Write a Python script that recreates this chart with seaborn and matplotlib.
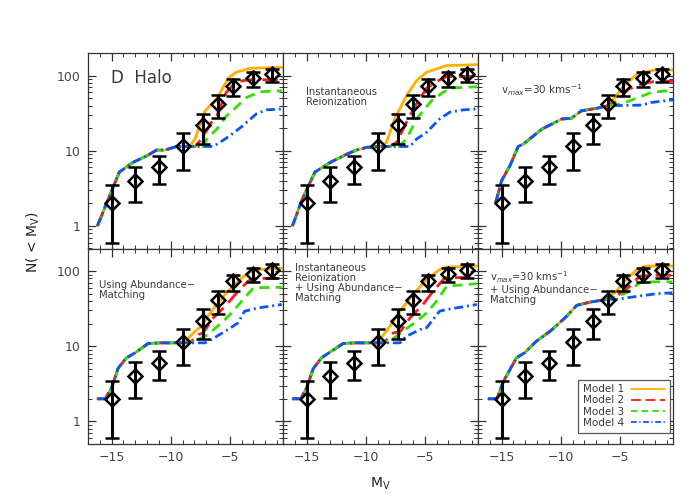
import matplotlib
matplotlib.use("Agg")
import matplotlib.pyplot as plt
import matplotlib.ticker as mticker
from matplotlib.lines import Line2D
import numpy as np
import pandas as pd
import seaborn as sns

# ---------------- data ----------------
obs_x = [-15.0, -13.0, -11.0, -9.0, -7.25, -6.0, -4.75, -3.0, -1.45]
obs_y = [2.0, 4.0, 6.0, 11.4, 22.0, 41.5, 73.6, 92.0, 105.0]
obs_lo = [0.6, 2.05, 3.6, 5.6, 12.3, 27.0, 54.0, 71.0, 81.0]
obs_hi = [3.5, 6.1, 8.6, 17.2, 31.0, 55.0, 90.0, 111.0, 123.0]

panel_titles = [
    "D  Halo",
    "Instantaneous\nReionization",
    "v$_{max}$=30 kms$^{-1}$",
    "Using Abundance\u2212\nMatching",
    "Instantaneous\nReionization\n+ Using Abundance\u2212\nMatching",
    "v$_{max}$=30 kms$^{-1}$\n+ Using Abundance\u2212\nMatching",
]
model_labels = ["Model 1", "Model 2", "Model 3", "Model 4"]

# Panel 1: D Halo
p1_common_x = [-16.2, -15.4, -14.35, -13.2, -12.0, -11.2, -10.5, -9.5, -8.4]
p1_common_y = [1.0, 2.05, 5.2, 7.0, 8.6, 10.2, 10.2, 11.4, 11.4]
p1_m1_x = [-7.95, -7.1, -6.1, -5.15, -4.45, -3.3, -0.6]
p1_m1_y = [14.3, 34, 49, 92, 111, 125, 129]
p1_m2_x = [-7.95, -7.4, -6.55, -6.1, -5.3, -4.45, -3.3, -0.6]
p1_m2_y = [11.4, 14.3, 24, 29, 60, 83, 88, 88]
p1_m3_x = [-7.3, -6.95, -6.1, -5.3, -4.7, -3.6, -2.45, -0.6]
p1_m3_y = [11.4, 14.3, 19.4, 29, 35, 51, 61, 63]
p1_m4_x = [-6.4, -5.85, -5.0, -3.9, -2.75, -1.9, -0.6]
p1_m4_y = [11.4, 12.9, 15.8, 21.5, 31, 35, 36]

# Panel 2: Instantaneous Reionization
p2_common_x = [-16.2, -15.4, -14.3, -13.0, -11.6, -10.8, -9.9, -8.7]
p2_common_y = [1.0, 2.2, 5.2, 7.0, 9.0, 10.2, 11.1, 11.4]
p2_m1_x = [-8.25, -7.55, -6.55, -5.7, -4.85, -3.15, -0.6]
p2_m1_y = [12.9, 26.5, 54, 86, 111, 136, 140]
p2_m2_x = [-7.95, -7.4, -6.55, -5.7, -4.85, -3.85, -3.15, -0.6]
p2_m2_y = [11.4, 12.9, 24, 42, 68, 86, 97, 98]
p2_m3_x = [-7.2, -6.55, -5.7, -4.45, -3.45, -2.75, -0.6]
p2_m3_y = [11.4, 14.3, 26.5, 46, 60, 68.5, 71]
p2_m4_x = [-6.25, -5.7, -4.85, -3.75, -2.9, -1.75, -0.6]
p2_m4_y = [11.4, 14.3, 17.6, 26.5, 32.5, 35, 36]

# Panel 3: vmax = 30 km/s
p3_common_x = [-15.5, -15.0, -14.3, -13.6, -13.15, -11.6, -9.9, -9.1, -8.25, -6.85, -6.0]
p3_common_y = [2.05, 4.0, 6.3, 11.4, 12.3, 19.4, 26.5, 27, 34, 37, 40]
p3_m1_x = [-5.4, -4.55, -3.45, -2.05, -0.5]
p3_m1_y = [51.5, 77, 107, 119, 119]
p3_m2_x = [-5.15, -4.3, -3.15, -2.05, -0.5]
p3_m2_y = [46, 66, 77, 84, 84]
p3_m3_x = [-4.85, -3.75, -2.3, -0.5]
p3_m3_y = [42, 49, 60, 64]
p3_m4_x = [-4.85, -3.15, -2.3, -0.5]
p3_m4_y = [40, 40.5, 44, 47.5]

# Panel 4: Using Abundance-Matching
p4_common_x = [-16.2, -15.55, -15.0, -14.45, -13.75, -13.0, -11.9, -10.8, -9.1]
p4_common_y = [2.0, 2.0, 2.8, 5.1, 7.0, 8.2, 10.9, 11.1, 11.1]
p4_m1_x = [-8.5, -7.95, -7.4, -6.55, -5.4, -4.3, -3.45, -2.6, -0.6]
p4_m1_y = [12.9, 15.8, 18.5, 29.3, 49, 73.6, 95, 105, 109]
p4_m2_x = [-8.25, -7.65, -7.25, -6.4, -5.4, -4.3, -3.45, -2.9, -0.6]
p4_m2_y = [11.7, 14.3, 15.1, 23.9, 34, 54, 73.6, 80, 80]
p4_m3_x = [-7.95, -6.85, -5.7, -4.85, -3.75, -3.0, -0.6]
p4_m3_y = [11.7, 14.3, 20.5, 27.8, 44, 60, 61]
p4_m4_x = [-7.1, -6.55, -5.15, -4.3, -3.75, -2.6, -0.6]
p4_m4_y = [11.1, 12.3, 16.7, 20.5, 29.3, 32.4, 36]

# Panel 5: Instantaneous Reionization + Abundance-Matching
p5_common_x = [-16.2, -15.5, -15.0, -14.45, -13.75, -12.9, -11.9, -10.8, -9.1]
p5_common_y = [2.0, 2.0, 2.8, 5.0, 7.0, 8.6, 10.9, 11.1, 11.1]
p5_m1_x = [-8.8, -7.95, -7.1, -6.0, -4.85, -3.75, -3.15, -0.6]
p5_m1_y = [12.3, 18.5, 29.3, 49, 77, 105, 113, 117]
p5_m2_x = [-8.5, -7.65, -7.1, -6.25, -5.15, -4.3, -3.3, -0.6]
p5_m2_y = [11.1, 15.1, 15.5, 23.9, 36, 54, 81.5, 83]
p5_m3_x = [-7.95, -6.85, -5.7, -4.85, -4.0, -3.15, -0.6]
p5_m3_y = [11.7, 15.8, 21.5, 27.8, 39.8, 63, 68]
p5_m4_x = [-7.1, -6.55, -5.4, -4.85, -3.75, -3.15, -0.6]
p5_m4_y = [11.1, 13.6, 16.7, 17.6, 29.3, 30.8, 36]

# Panel 6: vmax = 30 km/s + Abundance-Matching
p6_common_x = [-16.15, -15.4, -14.85, -13.75, -13.05, -12.05, -10.9, -9.5, -8.65, -7.55, -6.1]
p6_common_y = [2.0, 2.0, 3.4, 7.0, 8.2, 11.7, 15.8, 25, 35, 38.6, 42]
p6_m1_x = [-5.3, -4.45, -3.6, -2.75, -0.55]
p6_m1_y = [54, 77.5, 103, 117, 117]
p6_m2_x = [-5.3, -4.15, -3.3, -2.2, -0.55]
p6_m2_y = [46, 63, 86, 88, 88]
p6_m3_x = [-5.55, -4.45, -3.3, -2.2, -0.55]
p6_m3_y = [44, 51.5, 70, 72, 72]
p6_m4_x = [-5.3, -3.6, -1.9, -0.55]
p6_m4_y = [42, 46, 50, 51.5]

panels = [
    (p1_common_x, p1_common_y, [(p1_m1_x, p1_m1_y), (p1_m2_x, p1_m2_y), (p1_m3_x, p1_m3_y), (p1_m4_x, p1_m4_y)]),
    (p2_common_x, p2_common_y, [(p2_m1_x, p2_m1_y), (p2_m2_x, p2_m2_y), (p2_m3_x, p2_m3_y), (p2_m4_x, p2_m4_y)]),
    (p3_common_x, p3_common_y, [(p3_m1_x, p3_m1_y), (p3_m2_x, p3_m2_y), (p3_m3_x, p3_m3_y), (p3_m4_x, p3_m4_y)]),
    (p4_common_x, p4_common_y, [(p4_m1_x, p4_m1_y), (p4_m2_x, p4_m2_y), (p4_m3_x, p4_m3_y), (p4_m4_x, p4_m4_y)]),
    (p5_common_x, p5_common_y, [(p5_m1_x, p5_m1_y), (p5_m2_x, p5_m2_y), (p5_m3_x, p5_m3_y), (p5_m4_x, p5_m4_y)]),
    (p6_common_x, p6_common_y, [(p6_m1_x, p6_m1_y), (p6_m2_x, p6_m2_y), (p6_m3_x, p6_m3_y), (p6_m4_x, p6_m4_y)]),
]

# ---------------- style ----------------
sns.set_theme(style="ticks")
plt.rcParams["font.family"] = ["DejaVu Sans"]
plt.rcParams["axes.edgecolor"] = "#333333"
plt.rcParams["axes.linewidth"] = 0.9

model_colors = ["#FFB000", "#FF1A1A", "#33E000", "#0A55FF"]
model_styles = ["-", (0, (5.5, 2.5)), (0, (3.6, 2.3)), (0, (3.2, 1.4, 0.7, 1.4))]
text_color = "#3a3a3a"

fig, axes = plt.subplots(2, 3, figsize=(7, 5), dpi=100, sharex=True, sharey=True)
fig.subplots_adjust(left=0.1257, right=0.9614, top=0.894, bottom=0.112, wspace=0, hspace=0)

title_pos = [(0.12, 0.872, 12, "center"), (0.12, 0.828, 7.2, "top"), (0.12, 0.81, 7.5, "center"),
             (0.058, 0.837, 7.2, "top"), (0.062, 0.927, 7.2, "top"), (0.062, 0.895, 7.2, "top")]

for i, ax in enumerate(axes.flat):
    cx, cy, tails = panels[i]
    for k, (tx, ty) in enumerate(tails):
        df = pd.DataFrame({"x": list(cx) + list(tx), "y": list(cy) + list(ty)})
        sns.lineplot(data=df, x="x", y="y", ax=ax, color=model_colors[k],
                     linestyle=model_styles[k], lw=2.0, estimator=None, sort=False,
                     zorder=2 + k)
    oy = np.array(obs_y)
    ax.errorbar(obs_x, obs_y, yerr=[oy - np.array(obs_lo), np.array(obs_hi) - oy],
                fmt="D", ms=7, mfc="none", mec="black", mew=1.8,
                ecolor="black", elinewidth=2.2, capsize=5, capthick=2, zorder=10)

    ax.set_yscale("log")
    ax.set_xlim(-17, -0.5)
    ax.set_ylim(0.5, 200)
    ax.set_xlabel("")
    ax.set_ylabel("")
    ax.xaxis.set_major_locator(mticker.FixedLocator([-15, -10, -5]))
    ax.xaxis.set_minor_locator(mticker.MultipleLocator(1))
    ax.yaxis.set_major_locator(mticker.FixedLocator([1, 10, 100]))
    ax.yaxis.set_minor_locator(mticker.LogLocator(base=10, subs=np.arange(2, 10)))
    ax.yaxis.set_major_formatter(mticker.FixedFormatter(["1", "10", "100"]))
    ax.yaxis.set_minor_formatter(mticker.NullFormatter())
    ax.tick_params(which="both", direction="in", top=True, right=True,
                   color="#333333", labelcolor="#444444", labelsize=9)
    ax.tick_params(which="major", length=6, width=0.9, pad=5)
    ax.tick_params(which="minor", length=3, width=0.7)
    row, col = divmod(i, 3)
    if col != 0:
        ax.tick_params(labelleft=False)
    if row == 0:
        ax.tick_params(labelbottom=False)

    tx0, ty0, fs, va = title_pos[i]
    ax.text(tx0, ty0, panel_titles[i], transform=ax.transAxes, fontsize=fs,
            color=text_color, ha="left", va=va, linespacing=1.0, zorder=20)

# legend in last panel
handles = [Line2D([0], [0], color=model_colors[k], linestyle=model_styles[k], lw=1.3)
           for k in range(4)]
leg = axes[1, 2].legend(handles, model_labels, loc="lower right",
                        bbox_to_anchor=(0.985, 0.058), borderaxespad=0,
                        markerfirst=False, fontsize=7.5, handlelength=3.3,
                        handletextpad=0.7, labelspacing=0.12, borderpad=0.45,
                        fancybox=False, framealpha=1, edgecolor="#555555")
leg.get_frame().set_linewidth(0.9)
for t in leg.get_texts():
    t.set_color(text_color)

fig.text(0.047, 0.516, "N( < M$_{\\mathrm{V}}$)", rotation=90, ha="center", va="center",
         fontsize=10, color="#222222")
fig.text(0.543, 0.032, "M$_{\\mathrm{V}}$", ha="center", va="center",
         fontsize=10, color="#222222")

fig.savefig("out.png", dpi=100)
